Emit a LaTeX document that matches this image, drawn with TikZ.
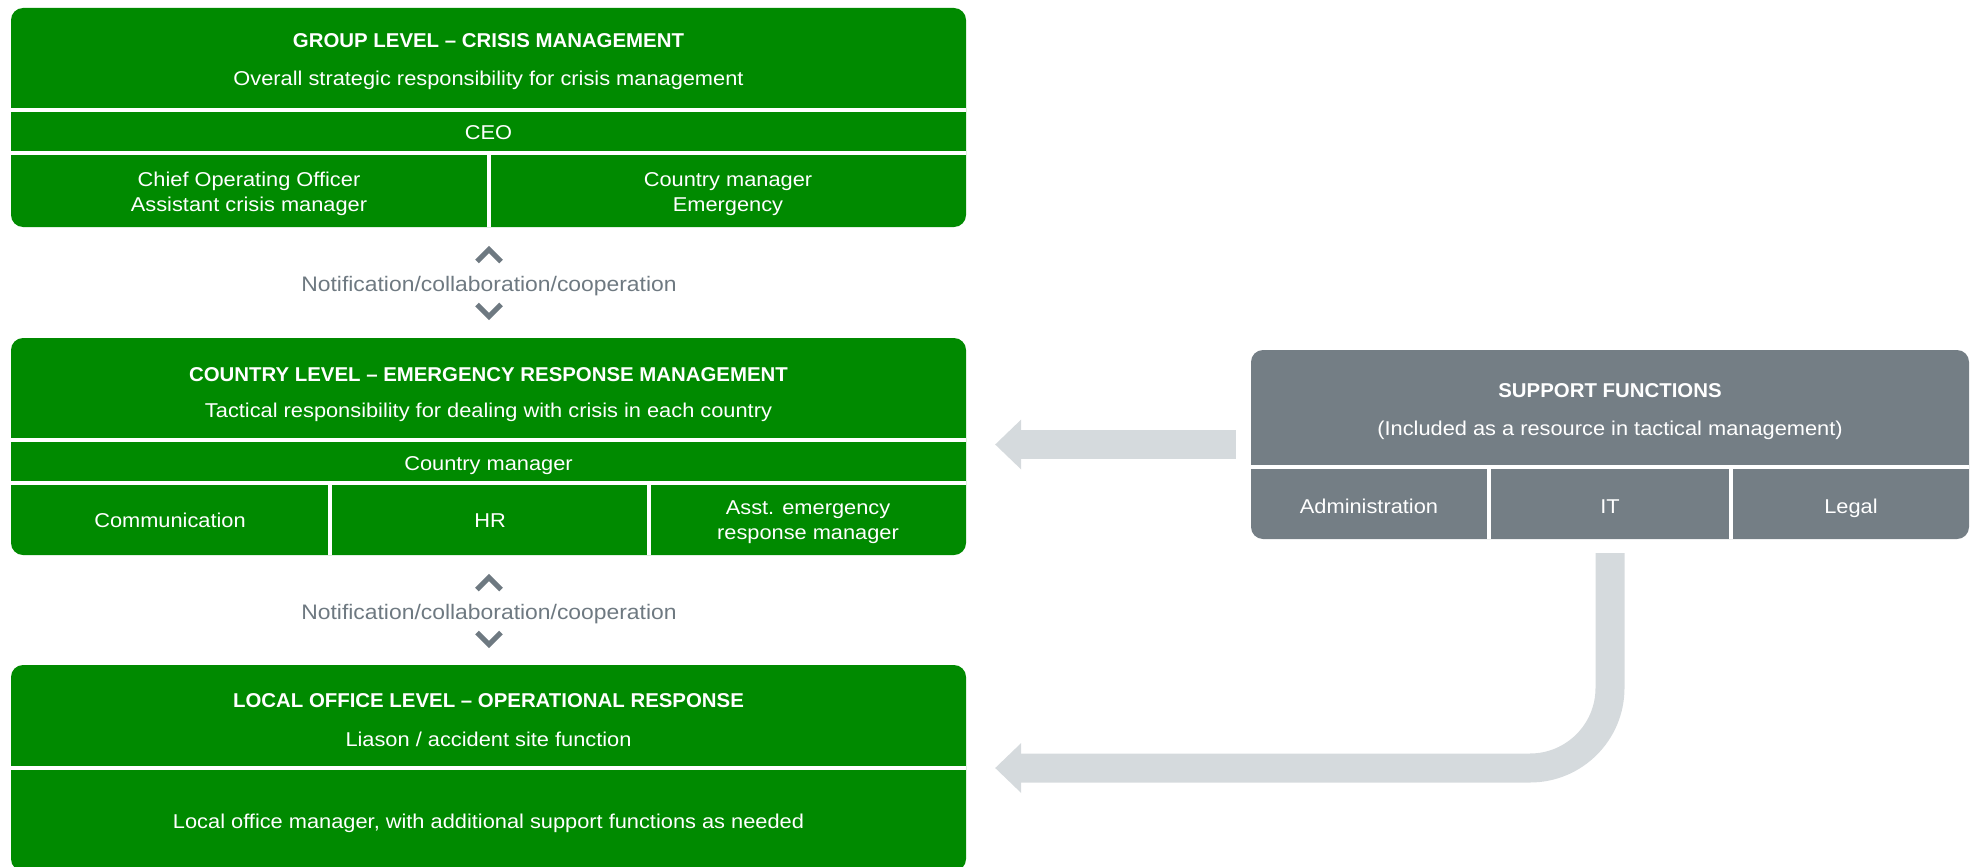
\documentclass[tikz,border=0pt]{standalone}
\usepackage{fontspec}
\setmainfont[FakeStretch=1.09,BoldFeatures={FakeStretch=1.02}]{Liberation Sans}
\usetikzlibrary{positioning,calc,arrows.meta}

\definecolor{lvlgreen}{RGB}{0,138,0}
\definecolor{supgray}{RGB}{116,126,133}
\definecolor{feedgray}{RGB}{213,218,221}
\definecolor{notegray}{RGB}{110,121,129}

\begin{document}
\begin{tikzpicture}[x=1pt,y=-1pt,
    every node/.style={font=\fontsize{20}{25}\selectfont,text=white,inner sep=0pt},
    line/.style={text height=20pt,text depth=4pt},
    lvlbox/.style={fill=lvlgreen,rounded corners=12pt},
    supbox/.style={fill=supgray,rounded corners=12pt},
    head/.style={line,font=\fontsize{20}{25}\selectfont\bfseries},
    sep/.style={draw=white,line width=4pt},
    note/.style={line,text=notegray,font=\fontsize{21}{25}\selectfont},
    chev/.style={draw=notegray,line width=5pt},
    feed/.style={draw=feedgray,line width=29pt,-{Triangle[length=26pt,width=50pt,line width=0pt]}}]
  \useasboundingbox (0,0) rectangle (1975,867);

  % group level
  \node[lvlbox,minimum width=955pt,minimum height=219pt] (group) at (488.5,117.5) {};
  \draw[sep] (group.west |- 0,110) -- (group.east |- 0,110);
  \draw[sep] (group.west |- 0,153) -- (group.east |- 0,153);
  \draw[sep] (489,153) -- (group.south -| 489,0);
  \node[head] (groupT) at (488.5,40) {GROUP LEVEL – CRISIS MANAGEMENT};
  \node[line] (groupS) at (488.5,77) {Overall strategic responsibility for crisis management};
  \node[line] (ceo) at (488.5,131) {CEO};
  \node[align=center] (coo) at (249,194) {Chief Operating Officer\\Assistant crisis manager};
  \node[align=center] (cmE) at (728,194) {Country manager\\Emergency};

  % country level
  \node[lvlbox,minimum width=955pt,minimum height=217pt] (country) at (488.5,446.5) {};
  \draw[sep] (country.west |- 0,440) -- (country.east |- 0,440);
  \draw[sep] (country.west |- 0,483) -- (country.east |- 0,483);
  \foreach \cx in {330,649}
    \draw[sep] (\cx,483) -- (country.south -| \cx,0);
  \node[head] (countryT) at (488.5,373) {COUNTRY LEVEL – EMERGENCY RESPONSE MANAGEMENT};
  \node[line] (countryS) at (488.5,409) {Tactical responsibility for dealing with crisis in each country};
  \node[line] (cm) at (488.5,462) {Country manager};
  \node[line] (comm) at (170,519) {Communication};
  \node[line] (hr) at (490,519) {HR};
  \node[align=center] (asst) at (808,522) {Asst. emergency\\response manager};

  % local office level
  \node[lvlbox,minimum width=955pt,minimum height=206pt] (local) at (488.5,768) {};
  \draw[sep] (local.west |- 0,767.5) -- (local.east |- 0,767.5);
  \node[head] (localT) at (488.5,699) {LOCAL OFFICE LEVEL – OPERATIONAL RESPONSE};
  \node[line] (localS) at (488.5,738) {Liason / accident site function};
  \node[line] (lom) at (488.5,820) {Local office manager, with additional support functions as needed};

  % notifications between levels
  \node[note] (note1) at (489,283) {Notification/collaboration/cooperation};
  \node[note] (note2) at (489,611) {Notification/collaboration/cooperation};
  \foreach \n in {note1,note2} {
    \draw[chev] ($(\n)+(-12,-21.5)$) -- ++(12,-12) -- ++(12,12);
    \draw[chev] ($(\n)+(-12,21.5)$) -- ++(12,12) -- ++(12,-12);
  }

  % support functions
  \node[supbox,minimum width=718pt,minimum height=189pt] (support) at (1610,444.5) {};
  \draw[sep] (support.west |- 0,466.5) -- (support.east |- 0,466.5);
  \foreach \cx in {1489,1731}
    \draw[sep] (\cx,466.5) -- (support.south -| \cx,0);
  \node[head] (supT) at (1610,389) {SUPPORT FUNCTIONS};
  \node[line] (supS) at (1610,427) {(Included as a resource in tactical management)};
  \node[line] (admin) at (1369,505) {Administration};
  \node[line] (it) at (1610,505) {IT};
  \node[line] (legal) at (1851,505) {Legal};

  \draw[feed,shorten <=15pt,shorten >=29pt] (support.west) -- (support.west -| country.east);
  \draw[feed,rounded corners=80pt,shorten <=14pt,shorten >=29pt] (support.south) |- (local.east);
\end{tikzpicture}
\end{document}
